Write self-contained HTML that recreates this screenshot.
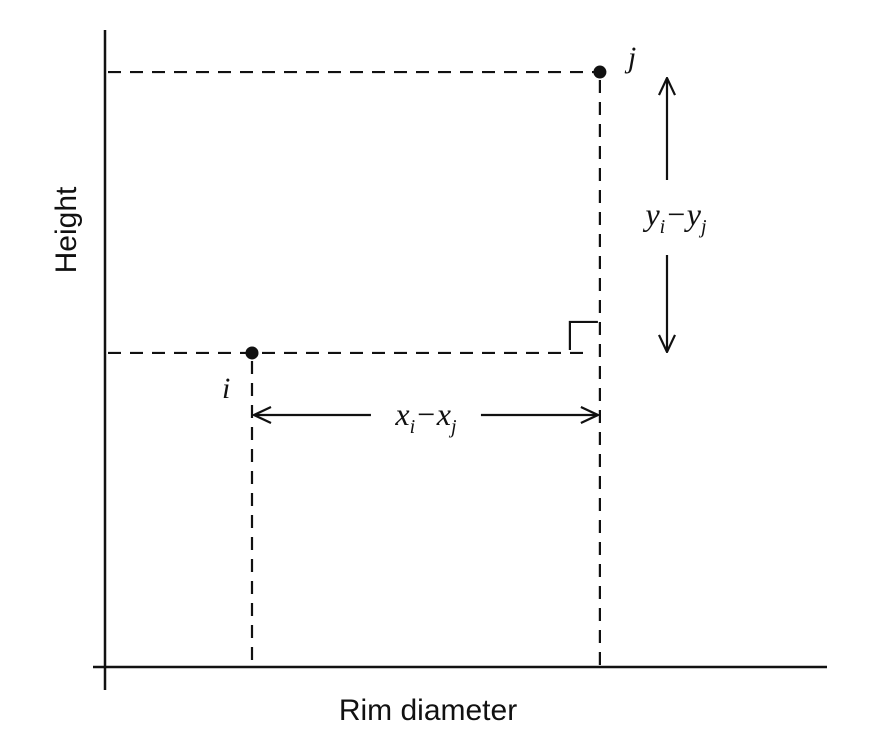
<!DOCTYPE html>
<html><head><meta charset="utf-8"><style>
html,body{margin:0;padding:0;background:#fff;}
svg{display:block;}
text{font-family:"Liberation Sans",sans-serif;fill:#111;}
.it{font-family:"Liberation Serif",serif;font-style:italic;}
</style></head><body>
<svg width="869" height="737" viewBox="0 0 869 737">
<defs>
<marker id="ah" viewBox="0 0 20 20" refX="19" refY="10" markerWidth="20" markerHeight="20" markerUnits="userSpaceOnUse" orient="auto-start-reverse">
<path d="M2,2 L19,10 L2,18" fill="none" stroke="#111" stroke-width="2.2"/>
</marker>
</defs>
<g id="axes"></g>
<g id="marks"></g>
</svg>
<script>
const pointNames = ['i','j'];
const xValues = [0.21, 0.707];
const yValues = [0.493, 0.934];
const NS='http://www.w3.org/2000/svg';
const x0=105, x1=805, y0=667, y1=30;
function sx(v){return x0+(x1-x0)*v;}
function sy(v){return y0-(y0-y1)*v;}
const axes=document.getElementById('axes'), marks=document.getElementById('marks');
function mk(tag,attrs,parent){const e=document.createElementNS(NS,tag);for(const k in attrs)e.setAttribute(k,attrs[k]);parent.appendChild(e);return e;}
let e;
e=mk('line',{x1:105,y1:30,x2:105,y2:690,stroke:'#111','stroke-width':2.5},axes);


e=mk('line',{x1:93,y1:667,x2:827,y2:667,stroke:'#111','stroke-width':2.5},axes);


e=mk('text',{x:428,y:720,'font-size':30,'text-anchor':'middle'},axes);e.textContent='Rim diameter';


e=mk('text',{x:0,y:0,'font-size':30,'text-anchor':'middle',transform:'translate(76,230) rotate(-90)'},axes);e.textContent='Height';


const dash={stroke:'#111','stroke-width':2.2,'stroke-dasharray':'13,9',fill:'none'};
const xjPix=sx(xValues[1]);
for(let k=0;k<pointNames.length;k++){
  const px=sx(xValues[k]), py=sy(yValues[k]);
  const hEnd = k===0 ? xjPix-10 : px;
  e=mk('line',Object.assign({x1:108,y1:py,x2:hEnd,y2:py},dash),marks);
  
  
  e=mk('line',Object.assign({x1:px,y1:py+8,x2:px,y2:667},dash),marks);
  
  
  e=mk('circle',{cx:px,cy:py,r:6.5,fill:'#111'},marks);
  
  
}
const xi=sx(xValues[0]), xj=sx(xValues[1]), yi=sy(yValues[0]), yj=sy(yValues[1]);
e=mk('text',{x:xi-30,y:yi+45,'font-size':30,class:'it'},marks);e.textContent='i';


e=mk('text',{x:xj+28,y:yj-5,'font-size':30,class:'it'},marks);e.textContent='j';


e=mk('path',{d:`M${xj-30},${yi-3} V${yi-31} H${xj-2}`,stroke:'#111','stroke-width':2.2,fill:'none'},marks);


const ay=415;
const mid=(xi+xj)/2;
e=mk('line',{x1:xi+2,y1:ay,x2:mid-55,y2:ay,stroke:'#111','stroke-width':2.2,'marker-start':'url(#ah)'},marks);


e=mk('line',{x1:mid+55,y1:ay,x2:xj-2,y2:ay,stroke:'#111','stroke-width':2.2,'marker-end':'url(#ah)'},marks);


e=mk('text',{x:mid,y:ay+10,'font-size':32,'text-anchor':'middle',class:'it'},marks);
e.innerHTML='x<tspan font-size="20" dy="8">i</tspan><tspan dy="-8">−x</tspan><tspan font-size="20" dy="8">j</tspan>';


const ax=667;
e=mk('line',{x1:ax,y1:180,x2:ax,y2:yj+6,stroke:'#111','stroke-width':2.2,'marker-end':'url(#ah)'},marks);


e=mk('line',{x1:ax,y1:255,x2:ax,y2:yi-1,stroke:'#111','stroke-width':2.2,'marker-end':'url(#ah)'},marks);


e=mk('text',{x:676,y:225,'font-size':32,'text-anchor':'middle',class:'it'},marks);
e.innerHTML='y<tspan font-size="20" dy="8">i</tspan><tspan dy="-8">−y</tspan><tspan font-size="20" dy="8">j</tspan>';


</script>
</body></html>
